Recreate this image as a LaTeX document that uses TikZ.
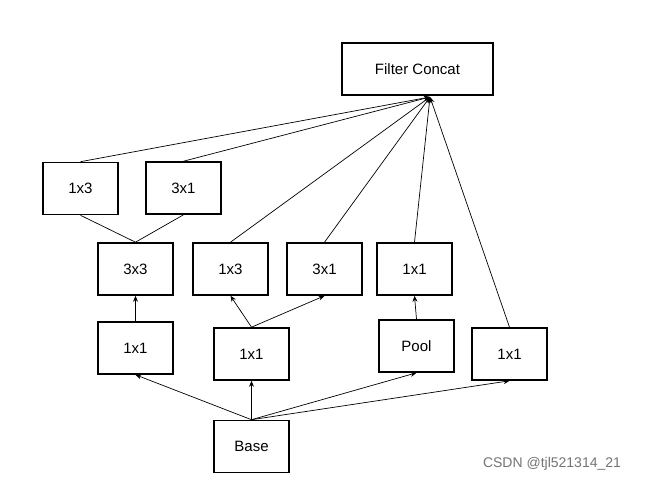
\documentclass[tikz,border=0pt]{standalone}
\usepackage{fontspec}
\setmainfont{Liberation Sans}
\usetikzlibrary{arrows.meta}
\begin{document}
\begin{tikzpicture}[x=1pt,y=-1pt,
  box/.style={draw,line width=1.6pt,minimum width=75pt,minimum height=52pt,inner sep=0pt,font=\fontsize{15}{18}\selectfont},
  ar/.style={-{Stealth[length=6pt,width=5pt]},line width=0.7pt},
  ln/.style={line width=0.7pt}]
\useasboundingbox (0,0) rectangle (654,484);
\node[box,minimum width=151pt] (fc) at (417.5,69) {Filter Concat};
\node[box] (a13) at (80.5,188.5) {1x3};
\node[box] (a31) at (183.5,188) {3x1};
\node[box] (b33) at (135.5,269) {3x3};
\node[box] (b13) at (230.5,269) {1x3};
\node[box] (b31) at (324.5,269) {3x1};
\node[box] (b11) at (414.5,269) {1x1};
\node[box] (c11) at (135.5,348) {1x1};
\node[box] (d11) at (251.5,354) {1x1};
\node[box] (pool) at (416.5,346) {Pool};
\node[box] (e11) at (509.5,354) {1x1};
\node[box] (base) at (251.5,446.5) {Base};
\coordinate (in) at (430,97);
\foreach \n in {a13,a31,b13,b31,b11,e11} \draw[ar] (\n.north) -- (in);
\draw[ln] (b33.north) -- (a13.south);
\draw[ln] (b33.north) -- (a31.south);
\draw[ar] (c11.north) -- (b33.south);
\draw[ar] (d11.north) -- (b13.south);
\draw[ar] (d11.north) -- (b31.south);
\draw[ar] (pool.north) -- (b11.south);
\foreach \n in {c11,d11,pool,e11} \draw[ar] (base.north) -- (\n.south);
\node[text=black!55,font=\fontsize{14}{16}\selectfont,anchor=center] (wm) at (552,464) {CSDN @tjl521314\_21};
\end{tikzpicture}
\end{document}
